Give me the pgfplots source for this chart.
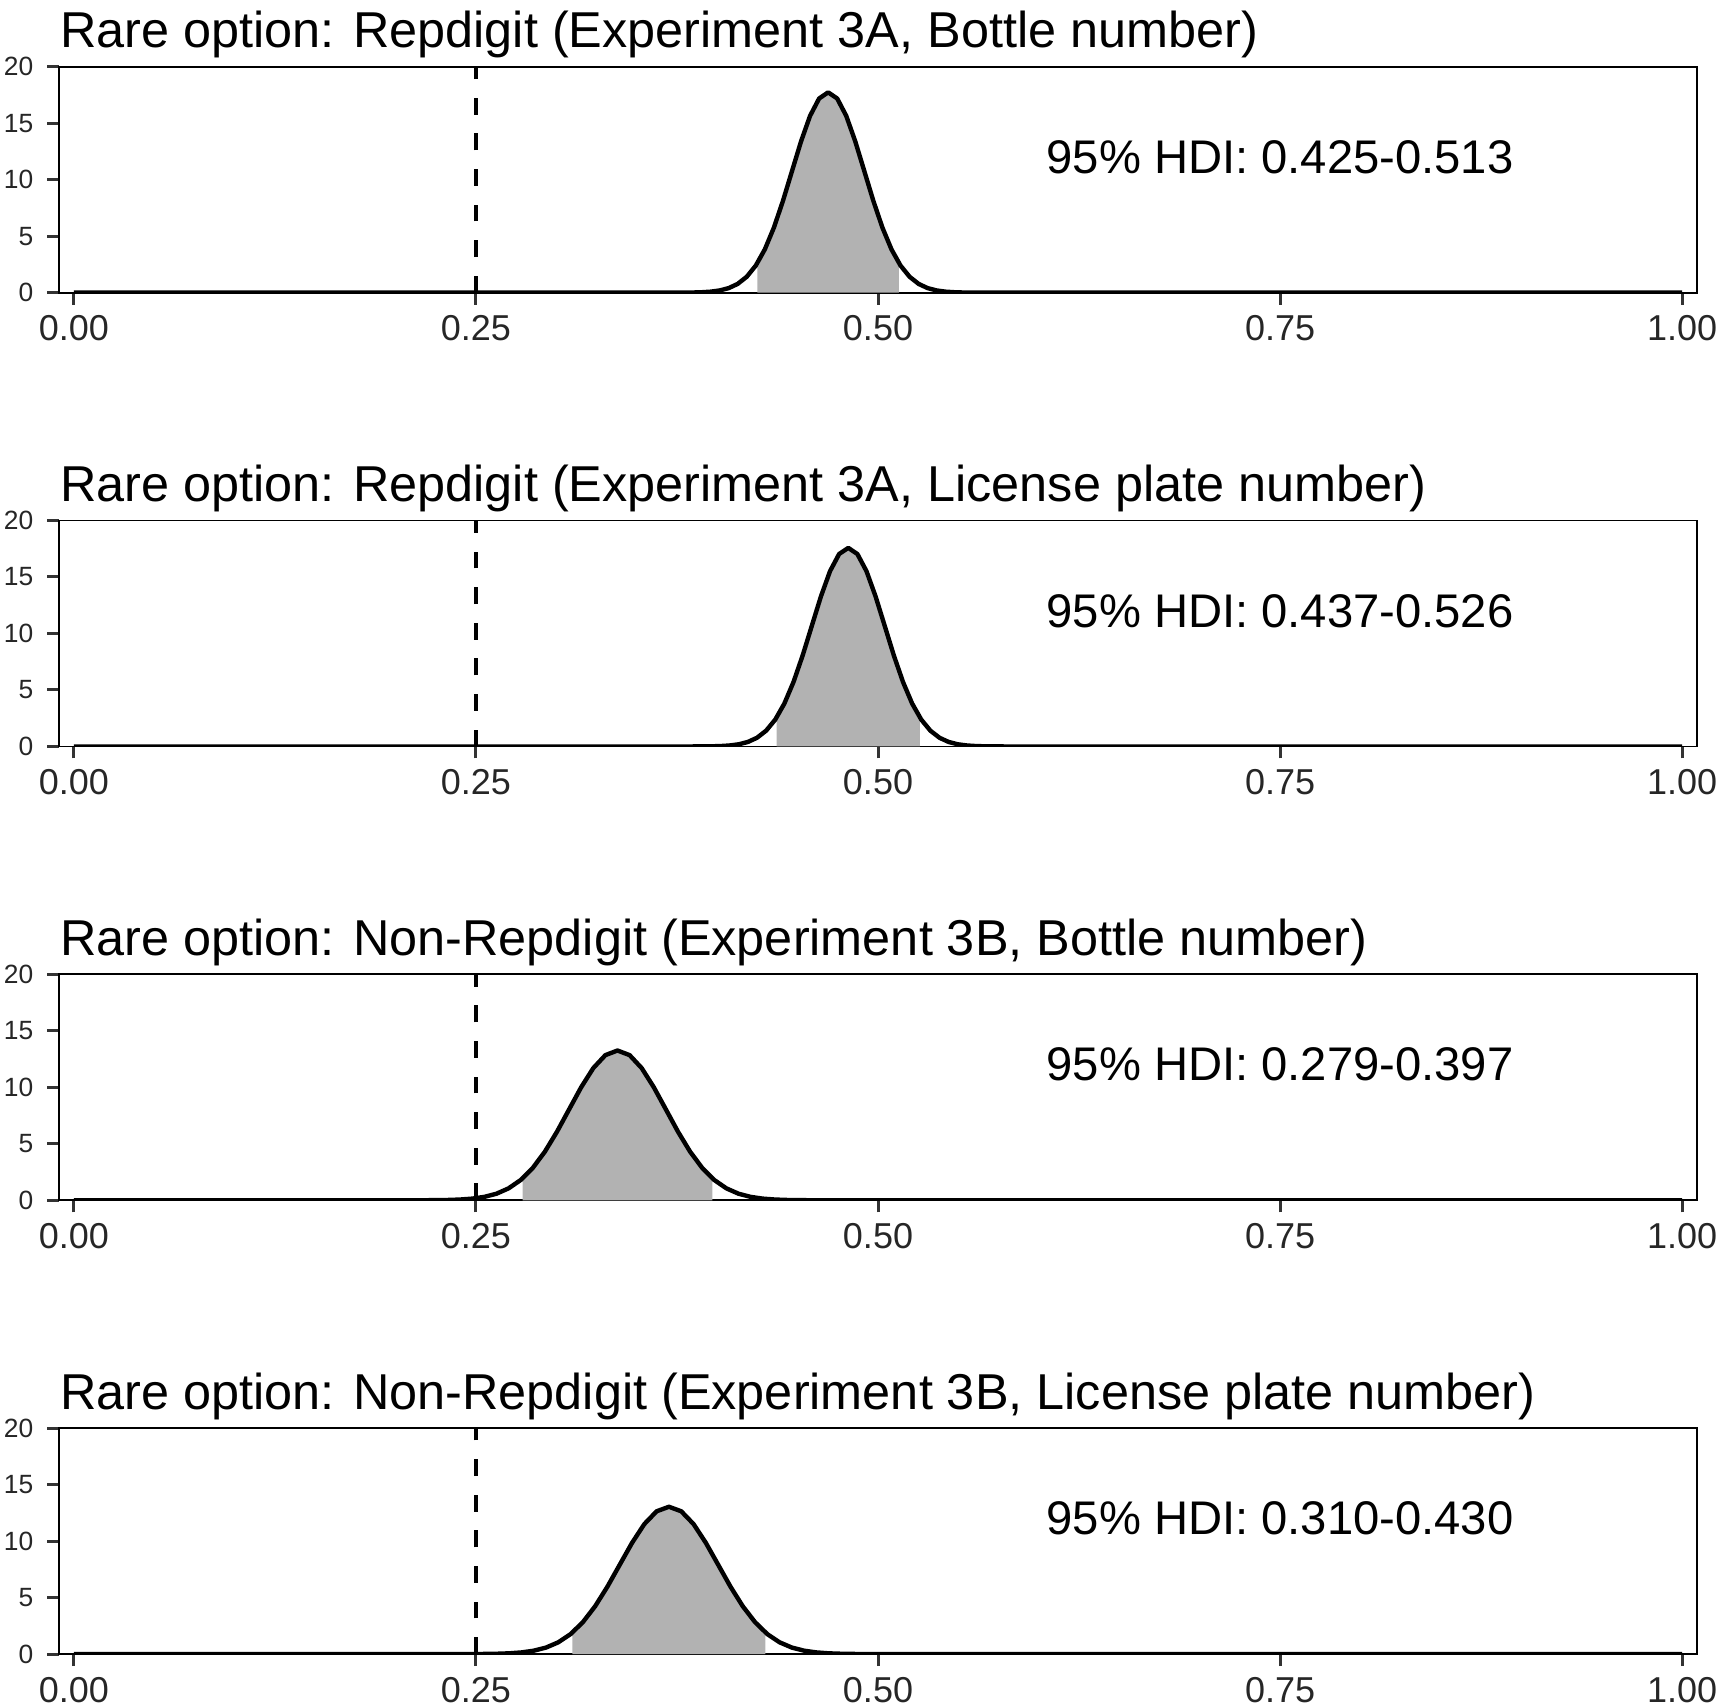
\documentclass[border=0pt]{standalone}
\usepackage{fontspec}
\setmainfont{Liberation Sans}
\usepackage{pgfplots}
\pgfplotsset{compat=1.18}
\pgfplotsset{
  panel/.style={
    scale only axis,
    width=409.35pt, height=56.5pt,
    xmin=-0.0091, xmax=1.0091, ymin=0, ymax=20,
    axis line style={line width=0.45pt, black},
    tick align=outside,
    major tick length=3pt,
    tick style={line width=0.75pt, black!80},
    xtick={0,0.25,0.5,0.75,1},
    xticklabels={0.00,0.25,0.50,0.75,1.00},
    ytick={0,5,10,15,20},
    yticklabels={0,5,10,15,20},
    xtick pos=bottom, ytick pos=left,
    xticklabel style={font=\fontsize{9}{9}\selectfont, black!85, yshift=0.8pt},
    yticklabel style={font=\fontsize{6.6}{6.6}\selectfont, black!85},
    title style={at={(0,1)}, anchor=base west, yshift=-1.25pt, inner sep=0pt, font=\fontsize{12.6}{13}\selectfont},
  },
  hdi/.style={fill=black!30, draw=none},
  dens/.style={line width=1.1pt, black, line join=round},
  vl/.style={line width=1pt, black, dash pattern=on 4.2pt off 4.7pt},
}
\begin{document}
\begin{tikzpicture}
\path[use as bounding box] (-14.83pt,-353.83pt) rectangle (416.18pt,73.18pt);
% Panel 1
\begin{axis}[panel, at={(0pt,0pt)}, anchor=south west,
  title={Rare option: Repdigit (Experiment 3A, Bottle number)}]
\addplot[hdi] coordinates {(0.425,0) (0.425,2.621) (0.429625,3.835) (0.43525,5.756) (0.440875,8.118) (0.4465,10.754) (0.452125,13.384) (0.45775,15.648) (0.463375,17.185) (0.469,17.730) (0.474625,17.185) (0.48025,15.648) (0.485875,13.384) (0.4915,10.754) (0.497125,8.118) (0.50275,5.756) (0.508375,3.835) (0.513,2.621) (0.513,0)} \closedcycle;
\addplot[dens] coordinates {(0,0) (0.36775,0.0007) (0.379,0.006) (0.384625,0.016) (0.39025,0.039) (0.395875,0.090) (0.4015,0.197) (0.407125,0.404) (0.41275,0.779) (0.418375,1.411) (0.424,2.400) (0.429625,3.835) (0.43525,5.756) (0.440875,8.118) (0.4465,10.754) (0.452125,13.384) (0.45775,15.648) (0.463375,17.185) (0.469,17.730) (0.474625,17.185) (0.48025,15.648) (0.485875,13.384) (0.4915,10.754) (0.497125,8.118) (0.50275,5.756) (0.508375,3.835) (0.514,2.400) (0.519625,1.411) (0.52525,0.779) (0.530875,0.404) (0.5365,0.197) (0.542125,0.090) (0.54775,0.039) (0.553375,0.016) (0.559,0.006) (0.57025,0.0007) (1,0)};
\addplot[vl] coordinates {(0.25,0) (0.25,20)};
\node[font=\fontsize{11.8}{12}\selectfont, inner sep=0pt] at (axis cs:0.75,12) {95\% HDI: 0.425-0.513};
\end{axis}
% Panel 2
\begin{axis}[panel, at={(0pt,-113.45pt)}, anchor=south west,
  title={Rare option: Repdigit (Experiment 3A, License plate number)}]
\addplot[hdi] coordinates {(0.437,0) (0.437,2.574) (0.441775,3.801) (0.44745,5.706) (0.453125,8.046) (0.4588,10.660) (0.464475,13.266) (0.47015,15.510) (0.475825,17.034) (0.4815,17.575) (0.487175,17.034) (0.49285,15.510) (0.498525,13.266) (0.5042,10.660) (0.509875,8.046) (0.51555,5.706) (0.521225,3.801) (0.526,2.574) (0.526,0)} \closedcycle;
\addplot[dens] coordinates {(0,0) (0.37935,0.0007) (0.3907,0.006) (0.396375,0.016) (0.40205,0.038) (0.407725,0.089) (0.4134,0.195) (0.419075,0.400) (0.42475,0.772) (0.430425,1.398) (0.4361,2.378) (0.441775,3.801) (0.44745,5.706) (0.453125,8.046) (0.4588,10.660) (0.464475,13.266) (0.47015,15.510) (0.475825,17.034) (0.4815,17.575) (0.487175,17.034) (0.49285,15.510) (0.498525,13.266) (0.5042,10.660) (0.509875,8.046) (0.51555,5.706) (0.521225,3.801) (0.5269,2.378) (0.532575,1.398) (0.53825,0.772) (0.543925,0.400) (0.5496,0.195) (0.555275,0.089) (0.56095,0.038) (0.566625,0.016) (0.5723,0.006) (0.58365,0.0007) (1,0)};
\addplot[vl] coordinates {(0.25,0) (0.25,20)};
\node[font=\fontsize{11.8}{12}\selectfont, inner sep=0pt] at (axis cs:0.75,12) {95\% HDI: 0.437-0.526};
\end{axis}
% Panel 3
\begin{axis}[panel, at={(0pt,-226.9pt)}, anchor=south west,
  title={Rare option: Non-Repdigit (Experiment 3B, Bottle number)}]
\addplot[hdi] coordinates {(0.279,0) (0.279,1.941) (0.285325,2.866) (0.29285,4.303) (0.300375,6.068) (0.3079,8.039) (0.315425,10.005) (0.32295,11.697) (0.330475,12.846) (0.338,13.254) (0.345525,12.846) (0.35305,11.697) (0.360575,10.005) (0.3681,8.039) (0.375625,6.068) (0.38315,4.303) (0.390675,2.866) (0.397,1.941) (0.397,0)} \closedcycle;
\addplot[dens] coordinates {(0,0) (0.20255,0.0005) (0.2176,0.0045) (0.225125,0.012) (0.23265,0.029) (0.240175,0.067) (0.2477,0.147) (0.255225,0.302) (0.26275,0.582) (0.270275,1.055) (0.2778,1.794) (0.285325,2.866) (0.29285,4.303) (0.300375,6.068) (0.3079,8.039) (0.315425,10.005) (0.32295,11.697) (0.330475,12.846) (0.338,13.254) (0.345525,12.846) (0.35305,11.697) (0.360575,10.005) (0.3681,8.039) (0.375625,6.068) (0.38315,4.303) (0.390675,2.866) (0.3982,1.794) (0.405725,1.055) (0.41325,0.582) (0.420775,0.302) (0.4283,0.147) (0.435825,0.067) (0.44335,0.029) (0.450875,0.012) (0.4584,0.0045) (0.47345,0.0005) (1,0)};
\addplot[vl] coordinates {(0.25,0) (0.25,20)};
\node[font=\fontsize{11.8}{12}\selectfont, inner sep=0pt] at (axis cs:0.75,12) {95\% HDI: 0.279-0.397};
\end{axis}
% Panel 4
\begin{axis}[panel, at={(0pt,-340.35pt)}, anchor=south west,
  title={Rare option: Non-Repdigit (Experiment 3B, License plate number)}]
\addplot[hdi] coordinates {(0.310,0) (0.310,1.908) (0.31645,2.820) (0.3241,4.233) (0.33175,5.969) (0.3394,7.908) (0.34705,9.841) (0.3547,11.506) (0.36235,12.636) (0.370,13.037) (0.37765,12.636) (0.3853,11.506) (0.39295,9.841) (0.4006,7.908) (0.40825,5.969) (0.4159,4.233) (0.42355,2.820) (0.430,1.908) (0.430,0)} \closedcycle;
\addplot[dens] coordinates {(0,0) (0.2323,0.0005) (0.2476,0.0044) (0.25525,0.012) (0.2629,0.029) (0.27055,0.066) (0.2782,0.145) (0.28585,0.297) (0.2935,0.573) (0.30115,1.037) (0.3088,1.764) (0.31645,2.820) (0.3241,4.233) (0.33175,5.969) (0.3394,7.908) (0.34705,9.841) (0.3547,11.506) (0.36235,12.636) (0.370,13.037) (0.37765,12.636) (0.3853,11.506) (0.39295,9.841) (0.4006,7.908) (0.40825,5.969) (0.4159,4.233) (0.42355,2.820) (0.4312,1.764) (0.43885,1.037) (0.4465,0.573) (0.45415,0.297) (0.4618,0.145) (0.46945,0.066) (0.4771,0.029) (0.48475,0.012) (0.4924,0.0044) (0.5077,0.0005) (1,0)};
\addplot[vl] coordinates {(0.25,0) (0.25,20)};
\node[font=\fontsize{11.8}{12}\selectfont, inner sep=0pt] at (axis cs:0.75,12) {95\% HDI: 0.310-0.430};
\end{axis}
\end{tikzpicture}
\end{document}
